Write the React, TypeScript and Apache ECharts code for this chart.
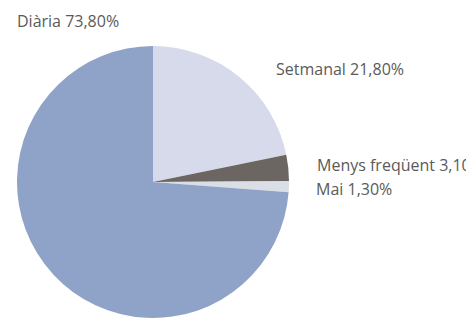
import React, { useEffect, useRef } from "react";
import * as echarts from "echarts";

const categories = ["Setmanal", "Menys freqüent", "Mai", "Diària"];
const values = [21.8, 3.1, 1.3, 73.8];
const colors = ["#d6daeb", "#6b6661", "#dadee6", "#8fa2c7"];
const labelPositions: [number, number][] = [
  [276, 69],
  [317, 165],
  [316, 189],
  [17, 21],
];

export default function App() {
  const ref = useRef<HTMLDivElement>(null);
  useEffect(() => {
    document.body.style.margin = "0";
    const chart = echarts.init(ref.current!, null, { renderer: "svg" });
    chart.setOption({
      animation: false,
      backgroundColor: "#ffffff",
      series: [
        {
          type: "pie",
          center: [153, 182],
          radius: 136,
          startAngle: 90,
          clockwise: true,
          avoidLabelOverlap: false,
          data: categories.map((c, i) => ({
            name: c,
            value: values[i],
            itemStyle: { color: colors[i] },
          })),
          itemStyle: { borderWidth: 0 },
          label: {
            show: true,
            position: "outside",
            overflow: "none",
            formatter: (p: any) =>
              `${p.name} ${p.value.toFixed(2).replace(".", ",")}%`,
            color: "#5a5a5a",
            fontSize: 16,
            fontFamily: "Open Sans",
          },
          labelLine: { show: false },
          labelLayout: (params: any) => ({
            x: labelPositions[params.dataIndex][0],
            y: labelPositions[params.dataIndex][1],
            align: "left",
            verticalAlign: "middle",
          }),
          emphasis: { disabled: true },
        },
      ],
    });
    return () => chart.dispose();
  }, []);
  return <div ref={ref} style={{ width: 466, height: 318 }} />;
}
